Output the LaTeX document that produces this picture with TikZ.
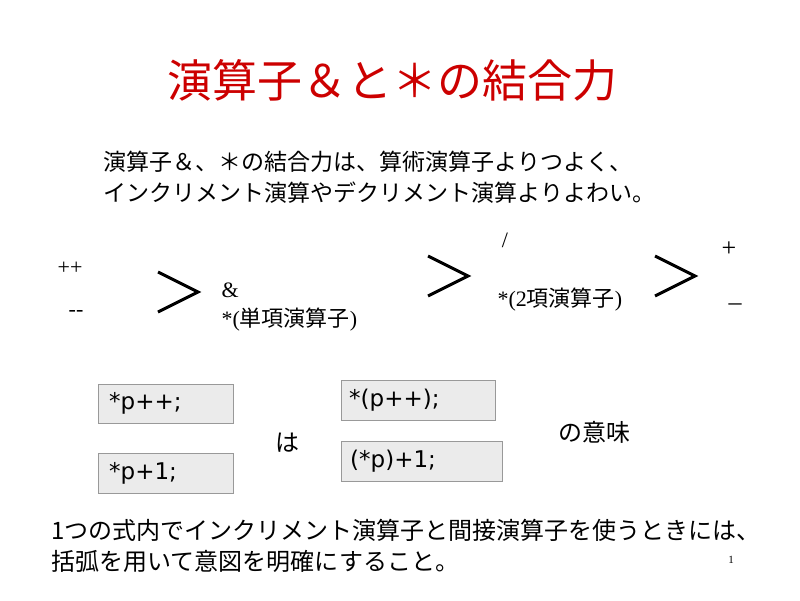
\documentclass[tikz,border=0pt]{standalone}
\usepackage{fontspec}
\setmainfont{Liberation Serif}
\newfontfamily\jp{Noto Sans CJK JP}
\newfontfamily\cd{DejaVu Sans}
\begin{document}
\begin{tikzpicture}[x=1pt,y=-1pt,
  cbox/.style={draw=gray!80,fill=black!8,anchor=north west,inner sep=0pt,font=\cd\fontsize{23}{25}\selectfont},
  gt/.style={line width=3pt,line join=miter},
  sm/.style={font=\fontsize{22}{24}\selectfont},
  jt/.style={font=\jp\fontsize{23}{26}\selectfont,anchor=west}]
\useasboundingbox (0,0) rectangle (800,600);
\node[font=\jp\fontsize{45}{48}\selectfont,text=red!80!black] (title) at (392,80) {演算子＆と＊の結合力};
\node[jt] (l1) at (100,162) {演算子＆、＊の結合力は、算術演算子よりつよく、};
\node[jt] (l2) at (100,193) {インクリメント演算やデクリメント演算よりよわい。};
\node[sm] (pp) at (70,268) {++};
\node[sm] (mm) at (76,313) {{-}{-}};
\draw[gt] (158,272) -- (198,292) -- (158,312);
\draw[gt] (428,256) -- (468,276) -- (428,296);
\draw[gt] (655,256) -- (695,276) -- (655,296);
\node[sm,anchor=west] (amp) at (218,290) {\&};
\node[sm,anchor=west] (u) at (218,320) {*(\jp 単項演算子\rm)};
\node[sm] (sl) at (505,240) {/};
\node[sm,anchor=west] (b) at (494,300) {*(2\jp 項演算子\rm)};
\node[font=\fontsize{26}{28}\selectfont] (pl) at (729,249) {+};
\node[font=\fontsize{26}{28}\selectfont] (mi) at (735,307) {–};
\node[cbox,minimum width=135pt,minimum height=39pt,text width=125pt,align=left] (a1) at (98,384) {\hspace*{6pt}*p++;};
\node[cbox,minimum width=135pt,minimum height=40pt,text width=125pt,align=left] (a2) at (98,453) {\hspace*{6pt}*p+1;};
\node[cbox,minimum width=154pt,minimum height=40pt,text width=150pt,align=left] (b1) at (341,380) {\hspace*{6pt}*(p++);};
\node[cbox,minimum width=161pt,minimum height=40pt,text width=155pt,align=left] (b2) at (341,441) {\hspace*{6pt}(*p)+1;};
\node[font=\jp\fontsize{24}{26}\selectfont] (ha) at (287,443) {は};
\node[font=\jp\fontsize{24}{26}\selectfont] (imi) at (594,432) {の意味};
\node[jt,font=\jp\fontsize{24}{26}\selectfont] (f1) at (48,530) {1つの式内でインクリメント演算子と間接演算子を使うときには、};
\node[jt,font=\jp\fontsize{24}{26}\selectfont] (f2) at (48,561) {括弧を用いて意図を明確にすること。};
\node[font=\fontsize{11}{12}\selectfont] (pg) at (731,560) {1};
\end{tikzpicture}
\end{document}
